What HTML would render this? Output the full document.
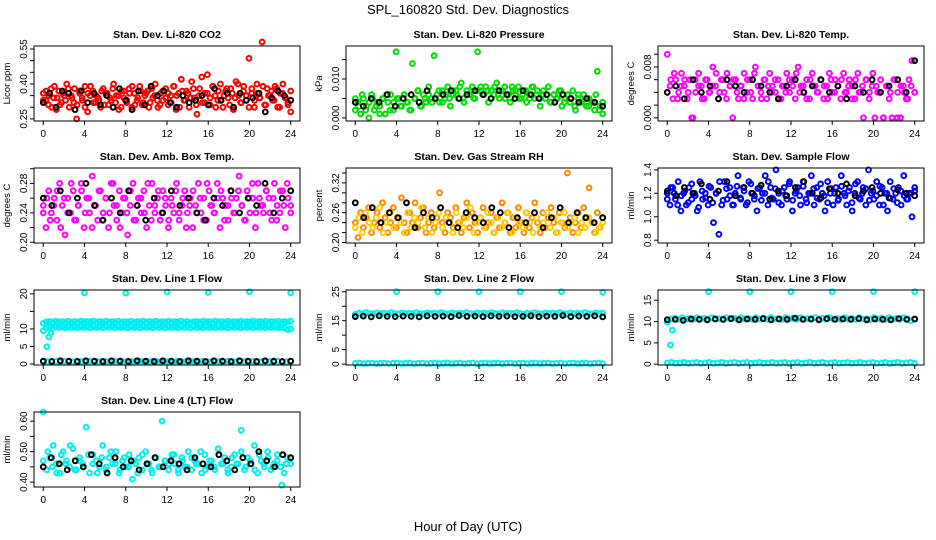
<!DOCTYPE html>
<html><head><meta charset="utf-8">
<style>
html,body{margin:0;padding:0;background:#fff;}
svg{display:block;font-family:"Liberation Sans",sans-serif;}
</style></head>
<body>
<svg id="chart" width="936" height="540" viewBox="0 0 936 540">
<text x="468" y="14" text-anchor="middle" font-size="13">SPL_160820  Std. Dev. Diagnostics</text>
<text x="468" y="531" text-anchor="middle" font-size="13">Hour of Day (UTC)</text>
</svg>
<script>
// x ticks shared
const xTicks = [0,4,8,12,16,20,24];

// Panel 1: CO2
const co2Col = [0.36,0.33,0.31,0.38,0.34,0.29,0.37,0.32,0.35,0.40,0.30,0.34,0.38,0.31,0.36,0.33,0.39,0.28,0.35,0.37,0.32,0.34,0.30,0.38,0.36,0.31,0.33,0.40,0.35,0.29,0.37,0.34,0.32,0.38,0.30,0.36,0.33,0.39,0.31,0.35,0.37,0.32,0.34,0.40,0.30,0.36,0.33,0.38,0.31,0.35,0.39,0.29,0.36,0.42,0.33,0.37,0.30,0.41,0.34,0.27,0.38,0.32,0.36,0.44,0.31,0.39,0.35,0.33,0.40,0.30,0.37,0.34,0.38,0.29,0.41,0.35,0.32,0.39,0.33,0.51,0.36,0.30,0.40,0.34,0.58,0.31,0.38,0.35,0.33,0.39,0.30,0.36,0.40,0.34,0.31,0.28];
const co2Col2 = [0.33,0.37,0.35,0.30,0.39,0.34,0.31,0.36,0.33,0.38,0.35,0.32,0.25,0.37,0.34,0.30,0.36,0.39,0.32,0.35,0.33,0.37,0.31,0.36,0.34,0.38,0.32,0.35,0.30,0.37,0.33,0.36,0.39,0.31,0.34,0.37,0.32,0.36,0.30,0.38,0.35,0.33,0.31,0.37,0.34,0.36,0.32,0.39,0.35,0.30,0.37,0.33,0.36,0.34,0.38,0.31,0.35,0.43,0.32,0.36,0.34,0.39,0.30,0.37,0.33,0.35,0.38,0.31,0.36,0.34,0.40,0.32,0.37,0.35,0.30,0.38,0.33,0.36,0.34,0.39,0.31,0.35,0.37,0.33,0.38,0.30,0.36,0.34,0.32,0.37];
const co2Blk = [0.32,0.36,0.30,0.37,0.36,0.29,0.37,0.32,0.36,0.31,0.35,0.30,0.38,0.33,0.29,0.37,0.31,0.39,0.35,0.37,0.32,0.30,0.35,0.32,0.33,0.35,0.31,0.38,0.33,0.36,0.30,0.36,0.33,0.34,0.36,0.28,0.34,0.37,0.35,0.33];

// Panel 2: pressure
const presCol = [0.002,0.004,0.001,0.005,0.003,0.000,0.006,0.002,0.004,0.003,0.005,0.001,0.004,0.006,0.002,0.017,0.005,0.003,0.006,0.004,0.002,0.014,0.005,0.007,0.003,0.006,0.004,0.008,0.005,0.016,0.006,0.004,0.007,0.005,0.008,0.003,0.006,0.007,0.005,0.009,0.004,0.007,0.006,0.008,0.005,0.017,0.007,0.006,0.008,0.004,0.007,0.006,0.009,0.005,0.007,0.008,0.006,0.004,0.007,0.006,0.008,0.005,0.007,0.004,0.006,0.008,0.005,0.007,0.003,0.006,0.005,0.008,0.004,0.006,0.005,0.007,0.003,0.005,0.006,0.004,0.007,0.002,0.005,0.004,0.006,0.003,0.005,0.004,0.002,0.012,0.003,0.001];
const presCol2 = [0.005,0.003,0.006,0.002,0.004,0.005,0.003,0.001,0.005,0.006,0.002,0.004,0.005,0.003,0.006,0.004,0.002,0.005,0.007,0.003,0.005,0.006,0.004,0.005,0.007,0.004,0.006,0.005,0.007,0.006,0.008,0.005,0.007,0.006,0.005,0.007,0.008,0.006,0.007,0.005,0.008,0.006,0.007,0.005,0.006,0.008,0.007,0.005,0.006,0.007,0.005,0.008,0.006,0.005,0.007,0.006,0.004,0.006,0.005,0.007,0.004,0.006,0.005,0.003,0.006,0.004,0.005,0.003,0.004,0.006,0.002,0.004];
const presBlk = [0.004,0.003,0.005,0.004,0.006,0.003,0.005,0.006,0.004,0.007,0.005,0.006,0.007,0.005,0.006,0.007,0.006,0.005,0.007,0.006,0.005,0.007,0.006,0.005,0.006,0.004,0.006,0.005,0.004,0.005,0.004,0.003];

// Panel 3: Li-820 temp
const tempCol = [0.010,0.005,0.003,0.006,0.004,0.007,0.005,0.003,0.006,0.000,0.004,0.007,0.005,0.003,0.006,0.004,0.008,0.005,0.003,0.006,0.004,0.007,0.005,0.000,0.006,0.003,0.005,0.007,0.004,0.006,0.003,0.008,0.005,0.004,0.006,0.003,0.007,0.005,0.004,0.006,0.003,0.005,0.007,0.004,0.006,0.003,0.008,0.005,0.004,0.006,0.003,0.007,0.005,0.004,0.006,0.003,0.005,0.007,0.004,0.006,0.005,0.003,0.007,0.004,0.006,0.005,0.003,0.007,0.004,0.000,0.006,0.003,0.005,0.000,0.004,0.006,0.000,0.005,0.003,0.000,0.006,0.004,0.000,0.005,0.003,0.006,0.009,0.004];
const tempCol2 = [0.004,0.006,0.007,0.003,0.005,0.006,0.004,0.000,0.006,0.005,0.003,0.006,0.004,0.005,0.007,0.004,0.006,0.003,0.005,0.006,0.004,0.005,0.003,0.006,0.004,0.007,0.005,0.003,0.006,0.005,0.004,0.006,0.003,0.005,0.004,0.006,0.005,0.007,0.004,0.005,0.003,0.006,0.005,0.004,0.006,0.005,0.003,0.006,0.004,0.005,0.006,0.004,0.005,0.003,0.006,0.004,0.005,0.006,0.004,0.007,0.005,0.004,0.000,0.005,0.004,0.006,0.000,0.005,0.004,0.003,0.005,0.004];
const tempBlk = [0.004,0.005,0.003,0.006,0.004,0.005,0.003,0.006,0.005,0.004,0.006,0.005,0.004,0.003,0.005,0.006,0.004,0.005,0.006,0.004,0.005,0.003,0.005,0.004,0.006,0.004,0.005,0.006,0.004,0.009];

// Panel 4: ambient box temp
const ambCol = [0.25,0.22,0.27,0.24,0.26,0.23,0.28,0.25,0.21,0.26,0.24,0.27,0.23,0.25,0.28,0.22,0.26,0.24,0.29,0.25,0.23,0.27,0.24,0.26,0.22,0.28,0.25,0.23,0.27,0.24,0.26,0.21,0.25,0.28,0.23,0.26,0.24,0.27,0.22,0.25,0.28,0.24,0.26,0.23,0.27,0.25,0.22,0.26,0.24,0.28,0.23,0.25,0.27,0.24,0.26,0.22,0.25,0.28,0.24,0.26,0.23,0.27,0.25,0.24,0.28,0.22,0.26,0.25,0.23,0.27,0.24,0.26,0.29,0.25,0.23,0.27,0.24,0.26,0.22,0.28,0.25,0.24,0.27,0.26,0.23,0.28,0.25,0.24,0.27,0.22,0.26,0.25];
const ambCol2 = [0.24,0.26,0.23,0.25,0.27,0.22,0.26,0.24,0.28,0.23,0.25,0.27,0.24,0.26,0.22,0.25,0.27,0.23,0.26,0.24,0.28,0.25,0.22,0.26,0.24,0.27,0.23,0.25,0.26,0.24,0.28,0.23,0.25,0.27,0.24,0.26,0.23,0.25,0.27,0.24,0.26,0.22,0.25,0.27,0.24,0.26,0.23,0.28,0.25,0.24,0.26,0.27,0.23,0.25,0.26,0.24,0.27,0.25,0.23,0.26,0.28,0.24,0.26,0.25,0.27,0.24,0.26,0.23,0.27,0.25,0.28,0.24];
const ambBlk = [0.26,0.25,0.27,0.24,0.26,0.28,0.25,0.23,0.26,0.24,0.27,0.25,0.23,0.26,0.24,0.27,0.25,0.26,0.24,0.23,0.26,0.25,0.27,0.24,0.26,0.25,0.28,0.24,0.26,0.27];

// Panel 5: gas stream RH
const rhCol = [0.24,0.21,0.26,0.23,0.25,0.27,0.22,0.24,0.26,0.23,0.28,0.25,0.22,0.24,0.27,0.23,0.25,0.29,0.24,0.22,0.26,0.24,0.28,0.23,0.25,0.27,0.22,0.24,0.26,0.23,0.25,0.30,0.24,0.22,0.26,0.25,0.23,0.27,0.24,0.22,0.25,0.28,0.23,0.26,0.24,0.22,0.25,0.27,0.23,0.24,0.26,0.22,0.25,0.23,0.28,0.24,0.26,0.22,0.25,0.23,0.27,0.24,0.22,0.26,0.23,0.25,0.28,0.24,0.22,0.26,0.23,0.25,0.27,0.24,0.22,0.26,0.24,0.23,0.34,0.25,0.22,0.24,0.26,0.23,0.27,0.25,0.31,0.24,0.22,0.26,0.23,0.25];
const rhCol2 = [0.23,0.25,0.22,0.26,0.24,0.23,0.25,0.27,0.22,0.24,0.26,0.23,0.25,0.24,0.22,0.26,0.23,0.25,0.24,0.27,0.23,0.25,0.22,0.24,0.26,0.23,0.25,0.24,0.22,0.26,0.24,0.23,0.25,0.27,0.22,0.24,0.25,0.23,0.26,0.24,0.22,0.25,0.23,0.24,0.26,0.22,0.25,0.24,0.23,0.26,0.24,0.22,0.25,0.23,0.24,0.26,0.23,0.25,0.22,0.24,0.26,0.23,0.24,0.25,0.22,0.24,0.23,0.25,0.24,0.22,0.23,0.24];
const rhBlk = [0.28,0.25,0.27,0.24,0.26,0.25,0.28,0.23,0.26,0.25,0.27,0.24,0.23,0.26,0.25,0.24,0.27,0.26,0.23,0.25,0.24,0.26,0.23,0.25,0.27,0.24,0.26,0.25,0.24,0.25];

// Panel 6: sample flow
const sfCol = [1.2,1.1,1.25,1.15,1.3,1.05,1.2,1.1,1.25,1.15,1.2,1.05,1.3,1.15,1.2,1.1,1.25,0.95,1.2,0.85,1.1,1.3,1.15,1.25,1.1,1.2,1.35,1.15,1.25,1.1,1.3,1.2,1.15,1.05,1.25,1.2,1.35,1.1,1.25,1.15,1.4,1.2,1.1,1.25,1.15,1.3,1.05,1.2,1.25,1.1,1.3,1.15,1.2,1.35,1.1,1.25,1.15,1.2,1.05,1.3,1.2,1.1,1.25,1.15,1.35,1.2,1.1,1.25,1.05,1.2,1.3,1.15,1.25,1.1,1.4,1.2,1.15,1.3,1.1,1.25,1.2,1.05,1.3,1.15,1.2,1.25,1.1,1.35,1.15,1.2,1.0,1.25];
const sfCol2 = [1.15,1.25,1.2,1.1,1.18,1.22,1.12,1.28,1.18,1.08,1.22,1.16,1.26,1.12,1.2,1.3,1.14,1.24,1.18,1.1,1.26,1.16,1.22,1.12,1.28,1.18,1.24,1.14,1.2,1.3,1.16,1.24,1.12,1.22,1.18,1.28,1.14,1.22,1.18,1.26,1.12,1.2,1.24,1.16,1.28,1.18,1.12,1.24,1.2,1.14,1.26,1.18,1.22,1.12,1.28,1.16,1.2,1.24,1.14,1.22,1.18,1.26,1.1,1.2,1.16,1.24,1.12,1.22,1.18,1.15,1.2,1.22];
const sfBlk = [1.22,1.18,1.25,1.2,1.28,1.15,1.22,1.3,1.18,1.25,1.2,1.27,1.15,1.22,1.18,1.25,1.3,1.2,1.16,1.24,1.2,1.28,1.18,1.22,1.25,1.2,1.16,1.23,1.2,1.18];

// Panel 7: Line 1 flow
const l1Upper = [11.6,12.0,12.1,11.9,12.2,12.0,12.1,11.9,12.2,12.0,12.1,11.9,12.2,12.0,12.1,12.0,12.2,11.9,12.1,12.0,12.2,11.9,12.1,12.0,12.2,11.9,12.1,12.0,12.2,11.9,12.1,12.0,12.2,11.9,12.1,12.0,12.2,11.9,12.1,12.0,12.2,11.9,12.1,12.0,12.2,11.9,12.1,11.8,12.0,12.1,11.9,12.2,12.0,12.1,11.9,12.2,12.0,12.1,11.9,12.2,12.0,12.1,12.0,12.2,11.9,12.1,12.0,12.2,11.9,12.1,12.0,12.2,11.9,12.1,12.0,12.2,11.9,12.1,12.0,12.2];
const l1Lower = [9.5,10.2,10.5,10.3,10.6,10.4,10.5,10.3,10.6,10.4,10.5,10.3,10.6,10.4,10.5,10.3,10.6,10.4,10.5,10.3,10.6,10.4,10.5,10.3,10.6,10.4,10.5,10.3,10.6,10.4,10.5,10.3,10.6,10.4,10.5,10.3,10.6,10.4,10.5,10.3,10.6,10.4,10.5,10.3,10.6,10.4,10.5,10.3,10.6,10.4,10.5,10.3,10.6,10.4,10.5,10.3,10.6,10.4,10.5,10.3,10.6,10.4,10.5,10.3,10.6,10.4,10.5,10.3,10.6,10.4,10.5,10.3,10.6,10.4,10.5,10.3,10.4,10.3,9.8,10.0];
const l1Zero = [0.7,0.6,0.8,0.7,0.6,0.8,0.7,0.6,0.8,0.7,0.6,0.8,0.7,0.6,0.8,0.7,0.6,0.8,0.7,0.6,0.8,0.7,0.6,0.8,0.7,0.6,0.8,0.7,0.6,0.8,0.7,0.6,0.8,0.7,0.6,0.8,0.7,0.6,0.8,0.7,0.6,0.8,0.7,0.6,0.8,0.7,0.6,0.8,0.7,0.6,0.8,0.7,0.6,0.8,0.7,0.6,0.8,0.7,0.6,0.8];
const l1Blk = [0.8,0.7,0.9,0.8,0.7,0.9,0.8,0.7,0.9,0.8,0.7,0.9,0.8,0.7,0.9,0.8,0.7,0.9,0.8,0.7,0.9,0.8,0.7,0.9,0.8,0.7,0.9,0.8,0.7,0.8];
const l1OutH = [0.35,0.55,0.75,4,8,12,16,20,24];
const l1OutV = [4.9,7.7,8.8,20.3,20.2,20.5,20.4,20.6,20.3];

// Panel 8: Line 2 flow
const l2Band = [17.2,17.6,17.4,17.8,17.5,17.3,17.7,17.5,17.6,17.4,17.8,17.5,17.3,17.7,17.5,17.6,17.4,17.8,17.5,17.3,17.7,17.5,17.6,17.4,17.8,17.5,17.3,17.7,17.5,17.6,17.4,17.8,17.5,17.3,17.7,17.5,17.6,17.4,17.8,17.5,17.3,17.7,17.5,17.6,17.4,17.8,17.5,17.2,17.6,17.4,17.8,17.5,17.3,17.7,17.5,17.6,17.4,17.8,17.5,17.3,17.7,17.5,17.6,17.4,17.8,17.5,17.3,17.7,17.5,17.6];
const l2Zero = [0.3,0.4,0.2,0.3,0.4,0.2,0.3,0.4,0.2,0.3,0.4,0.2,0.3,0.4,0.2,0.3,0.4,0.2,0.3,0.4,0.2,0.3,0.4,0.2,0.3,0.4,0.2,0.3,0.4,0.2,0.3,0.4,0.2,0.3,0.4,0.2,0.3,0.4,0.2,0.3,0.4,0.2,0.3,0.4,0.2,0.3,0.4,0.2,0.3,0.4,0.2,0.3,0.4,0.2,0.3,0.4,0.2,0.3,0.4,0.2];
const l2Blk = [16.4,16.6,16.3,16.7,16.5,16.4,16.6,16.5,16.3,16.7,16.5,16.6,16.4,16.8,16.5,16.6,16.4,16.7,16.5,16.6,16.4,16.5,16.7,16.4,16.6,16.5,16.8,16.4,16.6,16.5,16.7,16.3];
const l2OutH = [4,8,12,16,20,24];
const l2OutV = [25,25,25,25,25,24.8];

// Panel 9: Line 3 flow
const l3Band = [9.8,10.6,10.8,10.5,10.9,10.6,10.7,10.5,10.9,10.6,10.8,10.5,10.9,10.6,10.7,10.5,10.9,10.6,10.8,10.5,10.9,10.6,10.7,10.5,10.9,10.6,10.8,10.5,10.9,10.6,10.7,10.5,10.9,10.6,10.8,10.5,10.9,10.6,10.7,10.5,10.9,10.6,10.8,10.5,10.9,10.6,10.7,10.5,10.9,10.6,10.8,10.5,10.9,10.6,10.7,10.5,10.9,10.6,10.8,10.5,10.9,10.6,10.7,10.5,10.9,10.6,10.2,10.5];
const l3Zero = [0.3,0.4,0.2,0.3,0.4,0.2,0.3,0.4,0.2,0.3,0.4,0.2,0.3,0.4,0.2,0.3,0.4,0.2,0.3,0.4,0.2,0.3,0.4,0.2,0.3,0.4,0.2,0.3,0.4,0.2,0.3,0.4,0.2,0.3,0.4,0.2,0.3,0.4,0.2,0.3,0.4,0.2,0.3,0.4,0.2,0.3,0.4,0.2,0.3,0.4,0.2,0.3,0.4,0.2,0.3,0.4,0.2,0.3,0.4,0.2];
const l3Blk = [10.4,10.5,10.3,10.6,10.5,10.4,10.6,10.5,10.7,10.4,10.6,10.5,10.7,10.4,10.6,10.5,10.8,10.5,10.6,10.4,10.7,10.5,10.6,10.5,10.7,10.4,10.6,10.5,10.4,10.7,10.5,10.6];
const l3OutH = [0.3,0.5,4,8,12,16,20,24];
const l3OutV = [4.5,8,17,17,17,17,17,17];

// Panel 10: Line 4 flow
const l4Col = [0.63,0.44,0.48,0.52,0.46,0.43,0.50,0.47,0.45,0.51,0.44,0.48,0.46,0.58,0.43,0.49,0.47,0.45,0.52,0.44,0.48,0.46,0.50,0.43,0.47,0.45,0.49,0.41,0.46,0.48,0.44,0.50,0.46,0.43,0.48,0.45,0.60,0.47,0.44,0.49,0.46,0.43,0.48,0.45,0.50,0.44,0.47,0.46,0.43,0.49,0.45,0.47,0.44,0.51,0.46,0.48,0.43,0.45,0.49,0.46,0.57,0.44,0.48,0.46,0.52,0.43,0.47,0.45,0.50,0.44,0.46,0.49,0.45,0.43,0.48,0.46];
const l4Col2 = [0.47,0.50,0.45,0.43,0.49,0.46,0.52,0.44,0.47,0.45,0.49,0.46,0.43,0.48,0.45,0.50,0.46,0.44,0.48,0.45,0.47,0.43,0.49,0.46,0.44,0.48,0.45,0.47,0.46,0.49,0.44,0.47,0.45,0.48,0.46,0.50,0.44,0.47,0.45,0.49,0.46,0.44,0.48,0.46,0.50,0.45,0.47,0.44,0.49,0.46,0.48,0.45,0.47,0.39,0.46,0.48];
const l4Blk = [0.45,0.48,0.46,0.44,0.47,0.45,0.49,0.46,0.43,0.48,0.45,0.47,0.44,0.46,0.48,0.45,0.47,0.46,0.44,0.48,0.46,0.45,0.49,0.47,0.44,0.48,0.46,0.50,0.47,0.45,0.49,0.48];

const CYAN = "#00f0f0";
const panels = [
 {name:"co2", title:"Stan. Dev. Li-820 CO2", ylab:"Licor ppm", col:0,row:0, dom:[0.241,0.563],
  ticks:[0.25,0.30,0.35,0.40,0.45,0.50,0.55], labels:["0.25","","","0.40","","","0.55"],
  series:[{v:co2Col,c:"#ff0000"},{v:co2Col2,c:"#ff0000"},{v:co2Blk,c:"#000"}]},
 {name:"pressure", title:"Stan. Dev. Li-820 Pressure", ylab:"kPa", col:1,row:0, dom:[-0.0008,0.0185],
  ticks:[0,0.005,0.010,0.015], labels:["0.000","","0.010",""],
  series:[{v:presCol,c:"#00dd00"},{v:presCol2,c:"#00dd00"},{v:presBlk,c:"#000"}]},
 {name:"li820-temp", title:"Stan. Dev. Li-820 Temp.", ylab:"degrees C", col:2,row:0, dom:[-0.0005,0.0113],
  ticks:[0,0.002,0.004,0.006,0.008,0.010], labels:["0.000","","","","0.008",""],
  series:[{v:tempCol,c:"#ff00ff"},{v:tempCol2,c:"#ff00ff"},{v:tempBlk,c:"#000"}]},
 {name:"amb-box-temp", title:"Stan. Dev. Amb. Box Temp.", ylab:"degrees C", col:0,row:1, dom:[0.199,0.301],
  ticks:[0.20,0.22,0.24,0.26,0.28,0.30], labels:["0.20","","0.24","","0.28",""],
  series:[{v:ambCol,c:"#ff00ff"},{v:ambCol2,c:"#ff00ff"},{v:ambBlk,c:"#000"}]},
 {name:"gas-stream-rh", title:"Stan. Dev. Gas Stream RH", ylab:"percent", col:1,row:1, dom:[0.199,0.35],
  ticks:[0.20,0.22,0.24,0.26,0.28,0.30,0.32,0.34], labels:["0.20","","","0.26","","","0.32",""],
  series:[{v:rhCol,c:"#ff8800"},{v:rhCol2,c:"#ffcc00"},{v:rhBlk,c:"#000"}]},
 {name:"sample-flow", title:"Stan. Dev. Sample Flow", ylab:"ml/min", col:2,row:1, dom:[0.776,1.416],
  ticks:[0.8,1.0,1.2,1.4], labels:["0.8","1.0","1.2","1.4"],
  series:[{v:sfCol,c:"#0000ff"},{v:sfCol2,c:"#0000ff"},{v:sfBlk,c:"#000"}]},
 {name:"line1-flow", title:"Stan. Dev. Line 1 Flow", ylab:"ml/min", col:0,row:2, dom:[-0.3,21.1],
  ticks:[0,5,10,15,20], labels:["0","5","10","","20"],
  series:[{v:l1Upper,c:CYAN},{v:l1Lower,c:CYAN},{v:l1Zero,c:CYAN},{v:l1Blk,c:"#000"},{h:l1OutH,v:l1OutV,c:CYAN}]},
 {name:"line2-flow", title:"Stan. Dev. Line 2 Flow", ylab:"ml/min", col:1,row:2, dom:[-0.3,25.6],
  ticks:[0,5,10,15,20,25], labels:["0","5","","15","","25"],
  series:[{v:l2Band,c:CYAN},{v:l2Zero,c:CYAN},{v:l2Blk,c:"#000"},{h:l2OutH,v:l2OutV,c:CYAN}]},
 {name:"line3-flow", title:"Stan. Dev. Line 3 Flow", ylab:"ml/min", col:2,row:2, dom:[-0.2,17.4],
  ticks:[0,5,10,15], labels:["0","5","10","15"],
  series:[{v:l3Band,c:CYAN},{v:l3Zero,c:CYAN},{v:l3Blk,c:"#000"},{h:l3OutH,v:l3OutV,c:CYAN}]},
 {name:"line4-flow", title:"Stan. Dev. Line 4 (LT) Flow", ylab:"ml/min", col:0,row:3, dom:[0.384,0.630],
  ticks:[0.40,0.45,0.50,0.55,0.60], labels:["0.40","","0.50","","0.60"],
  series:[{v:l4Col,c:CYAN},{v:l4Col2,c:CYAN},{v:l4Blk,c:"#000"}]}
];

const NS = "http://www.w3.org/2000/svg";
const svg = document.getElementById("chart");
function mk(tag, attrs, parent){
  const e = document.createElementNS(NS, tag);
  for (const k in attrs) e.setAttribute(k, attrs[k]);
  parent.appendChild(e);
  return e;
}
const BW = 266, BH = 75;
panels.forEach(p => {
  const bx = 34 + p.col*312, by = 46 + p.row*122;
  const xs = h => bx + (h + 0.9) / 25.8 * BW;
  const ys = v => by + BH - (v - p.dom[0]) / (p.dom[1] - p.dom[0]) * BH;
  const g = mk("g", {}, svg);
  
  
  const t = mk("text", {x: bx + BW/2, y: by - 8, "text-anchor":"middle", "font-size":"10.5", "font-weight":"bold"}, g);
  t.textContent = p.title;
  
  
  const pts = mk("g", {fill:"none", "stroke-width":"2"}, g);
  
  
  p.series.forEach(s => {
    s.v.forEach((v, i) => {
      const h = s.h ? s.h[i] : i * 24 / (s.v.length - 1);
      const c = mk("circle", {cx: xs(h).toFixed(1), cy: ys(v).toFixed(1), r: 2.4, stroke: s.c}, pts);
      
      
    });
  });
  const box = mk("rect", {x: bx, y: by, width: BW, height: BH, fill: "none", stroke: "#000", "stroke-width": 1}, g);
  
  
  const xa = mk("g", {}, g);
  
  
  xTicks.forEach(h => {
    mk("line", {x1: xs(h), x2: xs(h), y1: by + BH, y2: by + BH + 4, stroke: "#000"}, xa);
    const tl = mk("text", {x: xs(h), y: by + BH + 16, "text-anchor": "middle", "font-size": "10"}, xa);
    tl.textContent = h;
  });
  const ya = mk("g", {}, g);
  
  
  p.ticks.forEach((v, i) => {
    const y = ys(v);
    mk("line", {x1: bx - 4, x2: bx, y1: y, y2: y, stroke: "#000"}, ya);
    if (p.labels[i]) {
      const tl = mk("text", {x: bx - 7, y: y, "text-anchor": "middle", "font-size": "10", transform: `rotate(-90 ${bx-7} ${y})`}, ya);
      tl.textContent = p.labels[i];
    }
  });
  const yl = mk("text", {x: bx - 24, y: by + BH/2, "text-anchor": "middle", "font-size": "9.5", transform: `rotate(-90 ${bx-24} ${by+BH/2})`}, g);
  yl.textContent = p.ylab;
  
  
});
</script>
</body></html>
